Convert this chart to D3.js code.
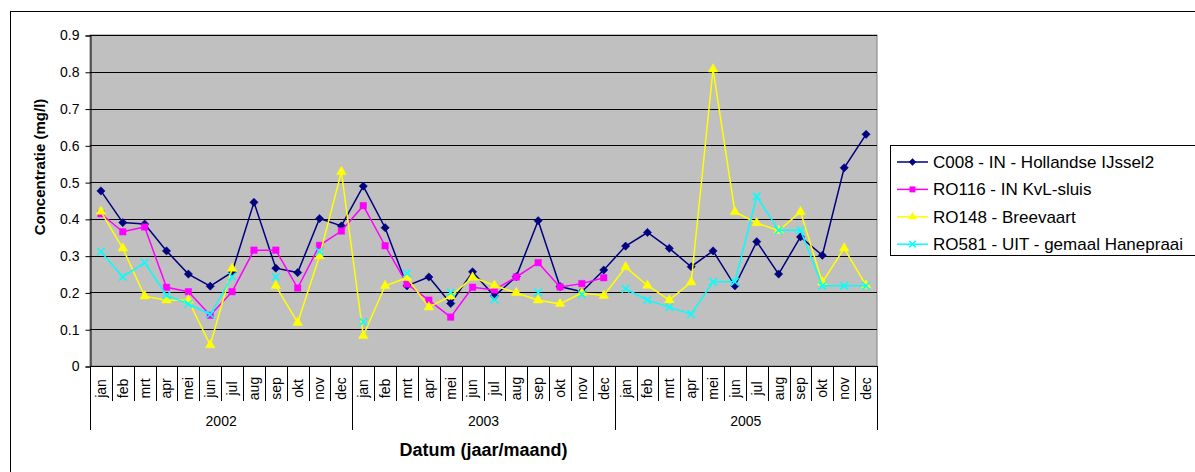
<!DOCTYPE html>
<html>
<head>
<meta charset="utf-8">
<script src="https://cdn.jsdelivr.net/npm/d3@7"></script>
<style>
  body { margin: 0; background: #fff; }
  text { font-family: "Liberation Sans", Arial, sans-serif; fill: #000; }
</style>
</head>
<body>
<script>
const w = 1195;
const h = 472;

const months = ["jan", "feb", "mrt", "apr", "mei", "jun", "jul", "aug", "sep", "okt", "nov", "dec"];
const years = ["2002", "2003", "2005"];
const yTicks = [0, 0.1, 0.2, 0.3, 0.4, 0.5, 0.6, 0.7, 0.8, 0.9];

// one value per month, null = geen meting
const c008 = [0.476, 0.390, 0.386, 0.313, 0.250, 0.217, 0.255, 0.445, 0.266, 0.254, 0.401, 0.381,
              0.489, 0.376, 0.218, 0.242, 0.170, 0.256, 0.190, 0.243, 0.395, 0.216, 0.202, 0.261,
              0.326, 0.363, 0.320, 0.270, 0.313, 0.218, 0.338, 0.250, 0.351, 0.301, 0.539, 0.630];
const ro116 = [0.414, 0.365, 0.378, 0.214, 0.202, 0.138, 0.202, 0.315, 0.315, 0.212, 0.328, 0.367,
               0.436, 0.327, 0.223, 0.179, 0.133, 0.214, 0.207, 0.242, 0.281, 0.215, 0.224, 0.240,
               null, null, null, null, null, null, null, null, null, null, null, null];
const ro148 = [0.420, 0.320, 0.190, 0.179, 0.179, 0.057, 0.265, null, 0.218, 0.118, 0.299, 0.528,
               0.082, 0.218, 0.240, 0.160, 0.190, 0.241, 0.219, 0.199, 0.179, 0.169, 0.199, 0.191,
               0.269, 0.219, 0.179, 0.228, 0.807, 0.419, 0.389, 0.368, 0.419, 0.228, 0.320, 0.219];
const ro581 = [0.311, 0.242, 0.281, 0.192, 0.169, 0.140, 0.243, null, 0.242, null, 0.311, null,
               0.120, null, 0.252, null, 0.200, null, 0.181, null, 0.200, null, 0.195, null,
               0.210, 0.179, 0.160, 0.141, 0.229, 0.229, 0.461, 0.369, 0.369, 0.218, 0.218, 0.218];

const seriesNames = ["C008 - IN - Hollandse IJssel2", "RO116 - IN KvL-sluis", "RO148 - Breevaart", "RO581 - UIT - gemaal Hanepraai"];
const seriesValues = [c008, ro116, ro148, ro581];
const seriesColors = ["#000080", "#ff00ff", "#ffff00", "#00ffff"];
// diamond = square turned 45 degrees
const seriesSymbols = [d3.symbolSquare, d3.symbolSquare, d3.symbolTriangle, d3.symbolX];
const symbolRotate = [45, 0, 0, 0];
const symbolSizes = [34, 42, 40, 40];

const categories = [];
years.forEach(y => months.forEach(m => categories.push(y + "-" + m)));

const svg = d3.select("body")
    .append("svg")
    .attr("width", w)
    .attr("height", h);

// chart frame (runs off the picture right and bottom)
svg.append("rect")
    .attr("x", 10.5).attr("y", 11.5)
    .attr("width", 1300).attr("height", 600)
    .attr("fill", "#fff").attr("stroke", "#000");

const plotLeft = 90, plotRight = 877, plotTop = 35, plotBottom = 366;

const xScale = d3.scaleBand()
    .domain(categories)
    .range([plotLeft, plotRight]);

const yScale = d3.scaleLinear()
    .domain([0, 0.9])
    .range([plotBottom, plotTop]);

svg.append("rect")
    .attr("x", plotLeft).attr("y", plotTop)
    .attr("width", plotRight - plotLeft).attr("height", plotBottom - plotTop)
    .attr("fill", "#c0c0c0").attr("stroke", "#808080");

// grid
svg.append("g")
    .selectAll("line")
    .data(yTicks.slice(1))
    .join("line")
    .attr("x1", plotLeft).attr("x2", plotRight)
    .attr("y1", d => Math.round(yScale(d)) + 0.5)
    .attr("y2", d => Math.round(yScale(d)) + 0.5)
    .attr("stroke", "#000");

// y axis
const yAxis = d3.axisLeft(yScale)
    .tickValues(yTicks)
    .tickFormat(d => d === 0 ? "0" : d3.format(".1f")(d))
    .tickSize(5)
    .tickPadding(6);

const yg = svg.append("g")
    .attr("transform", "translate(" + (plotLeft + 0.5) + ",0.5)")
    .call(yAxis);
yg.select(".domain").attr("stroke", "#000");
yg.selectAll(".tick line").attr("stroke", "#000");
yg.selectAll("text").style("font-size", "14px").style("font-family", "Liberation Sans, Arial");

// x axis: month ticks
const step = xScale.step();
const xg = svg.append("g");
xg.append("line")
    .attr("x1", plotLeft).attr("x2", plotRight)
    .attr("y1", plotBottom + 0.5).attr("y2", plotBottom + 0.5)
    .attr("stroke", "#000");
xg.selectAll("line.mt")
    .data(categories.slice(1))
    .join("line")
    .attr("class", "mt")
    .attr("x1", d => Math.round(xScale(d)) + 0.5)
    .attr("x2", d => Math.round(xScale(d)) + 0.5)
    .attr("y1", plotBottom).attr("y2", 401)
    .attr("stroke", "#000");
xg.selectAll("text.ml")
    .data(categories)
    .join("text")
    .attr("class", "ml")
    .attr("transform", d => "translate(" + (xScale(d) + step / 2) + ",388.5) rotate(-90)")
    .attr("text-anchor", "middle")
    .attr("dy", "0.35em")
    .style("font-size", "14px")
    .text(d => d.split("-")[1]);

// year separators and labels
const yearEdges = [0, 12, 24, 36].map(i => i < 36 ? xScale(categories[i]) : plotRight);
xg.selectAll("line.yt")
    .data(yearEdges)
    .join("line")
    .attr("class", "yt")
    .attr("x1", d => Math.round(d) + 0.5)
    .attr("x2", d => Math.round(d) + 0.5)
    .attr("y1", plotBottom).attr("y2", 430)
    .attr("stroke", "#000");
xg.selectAll("text.yl")
    .data(years)
    .join("text")
    .attr("class", "yl")
    .attr("x", (d, i) => (yearEdges[i] + yearEdges[i + 1]) / 2)
    .attr("y", 425.5)
    .attr("text-anchor", "middle")
    .style("font-size", "14px")
    .text(d => d);

// titles
svg.append("text")
    .attr("x", (plotLeft + plotRight) / 2)
    .attr("y", 455.5)
    .attr("text-anchor", "middle")
    .style("font-size", "18px")
    .style("font-weight", "bold")
    .text("Datum (jaar/maand)");

svg.append("text")
    .attr("transform", "translate(45,167) rotate(-90)")
    .attr("text-anchor", "middle")
    .style("font-size", "15px")
    .style("font-weight", "bold")
    .text("Concentratie (mg/l)");

// series
const line = d3.line()
    .defined(d => d.v != null)
    .x(d => xScale(d.c) + step / 2)
    .y(d => yScale(d.v));

seriesValues.forEach((vals, s) => {
    const pts = vals.map((v, i) => ({ c: categories[i], v: v }));
    const g = svg.append("g");
    g.append("path")
        .datum(pts)
        .attr("d", line)
        .attr("fill", "none")
        .attr("stroke", seriesColors[s])
        .attr("stroke-width", 1.5);
    g.selectAll("path.m")
        .data(pts.filter(d => d.v != null))
        .join("path")
        .attr("class", "m")
        .attr("transform", d => "translate(" + (xScale(d.c) + step / 2) + "," + yScale(d.v) + ") rotate(" + symbolRotate[s] + ")")
        .attr("d", d3.symbol().type(seriesSymbols[s]).size(symbolSizes[s]))
        .attr("fill", seriesColors[s])
        .attr("stroke", seriesColors[s])
        .attr("stroke-width", s === 3 ? 1.5 : 0.5);
});

// legend
const lg = svg.append("g");
lg.append("rect")
    .attr("x", 890.5).attr("y", 145.5)
    .attr("width", 400).attr("height", 110)
    .attr("fill", "#fff").attr("stroke", "#000");
seriesNames.forEach((name, s) => {
    const yy = 162 + s * 27.4;
    lg.append("line")
        .attr("x1", 897).attr("x2", 928)
        .attr("y1", yy).attr("y2", yy)
        .attr("stroke", seriesColors[s]).attr("stroke-width", 1.5);
    lg.append("path")
        .attr("transform", "translate(912.5," + yy + ") rotate(" + symbolRotate[s] + ")")
        .attr("d", d3.symbol().type(seriesSymbols[s]).size(symbolSizes[s] * 0.7))
        .attr("fill", seriesColors[s])
        .attr("stroke", seriesColors[s])
        .attr("stroke-width", s === 3 ? 1.5 : 0.5);
    lg.append("text")
        .attr("x", 933)
        .attr("y", yy)
        .attr("dy", "0.35em")
        .style("font-size", "17px")
        .text(name);
});
</script>
</body>
</html>
